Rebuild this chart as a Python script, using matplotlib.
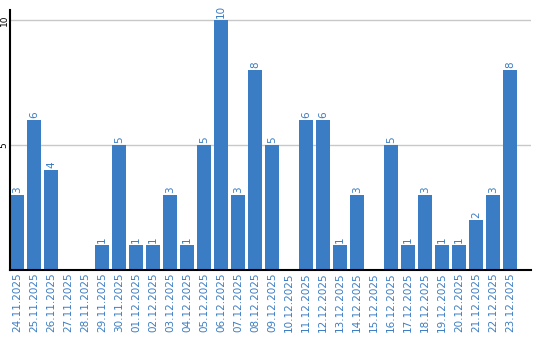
import matplotlib
matplotlib.use('Agg')
import matplotlib.pyplot as plt

dates = ['24.11.2025', '25.11.2025', '26.11.2025', '27.11.2025', '28.11.2025',
         '29.11.2025', '30.11.2025', '01.12.2025', '02.12.2025', '03.12.2025',
         '04.12.2025', '05.12.2025', '06.12.2025', '07.12.2025', '08.12.2025',
         '09.12.2025', '10.12.2025', '11.12.2025', '12.12.2025', '13.12.2025',
         '14.12.2025', '15.12.2025', '16.12.2025', '17.12.2025', '18.12.2025',
         '19.12.2025', '20.12.2025', '21.12.2025', '22.12.2025', '23.12.2025']
counts = [3, 6, 4, 0, 0, 1, 5, 1, 1, 3, 1, 5, 10, 3, 8, 5, 0, 6, 6, 1, 3, 0, 5, 1, 3, 1, 1, 2, 3, 8]
y_ticks = [5, 10]

blue = '#3b7dc4'

fig = plt.figure(figsize=(5.4, 3.4), dpi=100)
ax = fig.add_axes([10 / 540, 70 / 340, 521 / 540, 260 / 340])

x = list(range(len(dates)))
ax.bar(x, counts, width=0.82, color=blue, zorder=2)

# value labels, rotated, only for non-zero days
for xi, c in zip(x, counts):
    if c > 0:
        ax.text(xi, c + 0.08, str(c), rotation=90, ha='center', va='bottom',
                color=blue, fontsize=7.5)

ax.set_xlim(-0.41, 30.24)
ax.set_ylim(0, 10.4)

ax.set_xticks(x)
ax.set_xticklabels(dates, rotation=90, color=blue, fontsize=7.5)
ax.set_yticks(y_ticks)
ax.set_yticklabels([str(t) for t in y_ticks], rotation=90, fontsize=6.5, va='center')
ax.tick_params(axis='both', length=0, pad=2)
ax.tick_params(axis='y', pad=1)

ax.grid(axis='y', color='#c8c8c8', linewidth=1, zorder=0)
for side in ['top', 'right']:
    ax.spines[side].set_visible(False)
ax.spines['left'].set_linewidth(1.5)
ax.spines['bottom'].set_linewidth(1.5)

fig.savefig('out.png', dpi=100)
